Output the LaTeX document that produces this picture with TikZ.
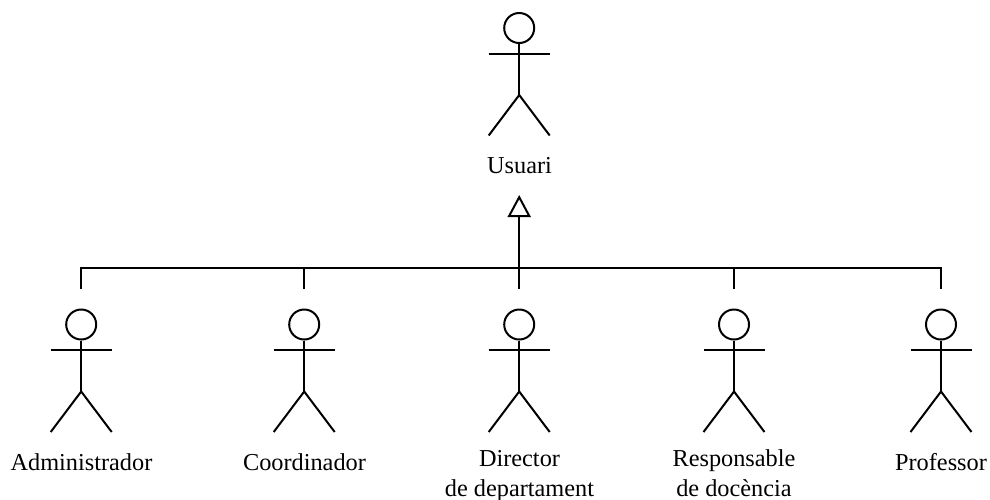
\documentclass[tikz,border=0pt]{standalone}
\usepackage{fontspec}
\setmainfont{Liberation Serif}
\usetikzlibrary{arrows.meta}
\tikzset{
  x=1pt,y=-1pt,
  ln/.style={line width=2pt,black},
  lbl/.style={font=\fontsize{24.3}{29}\selectfont,inner sep=0pt,outer sep=0pt,align=center,text=black},
  gen/.style={ln,-{Triangle[open,fill=white,length=22pt,width=23pt,line width=2pt]}},
}
% \actorfig{name}{x}{head centre y}
\newcommand{\actorfig}[3]{%
  \coordinate (#1-top) at (#2,#3-35.5);
  \node[ln,draw,circle,minimum size=30pt,inner sep=0pt] (#1-head) at (#2,#3) {};
  \coordinate (#1-hip) at (#2,#3+67);
  \coordinate (#1-la) at (#2-30.5,#3+25.5);
  \coordinate (#1-ra) at (#2+30.5,#3+25.5);
  \coordinate (#1-lf) at (#2-30.5,#3+107.5);
  \coordinate (#1-rf) at (#2+30.5,#3+107.5);
  \draw[ln] (#1-head.south) -- (#1-hip);
  \draw[ln] (#1-la) -- (#1-ra);
  \draw[ln] (#1-lf) -- (#1-hip) -- (#1-rf);
}
\begin{document}
\begin{tikzpicture}
\useasboundingbox (0,0) rectangle (990,499);
\actorfig{usuari}{519.2}{28}
\actorfig{admin}{81.2}{324.5}
\actorfig{coord}{304.2}{324.5}
\actorfig{dir}{519.2}{324.5}
\actorfig{resp}{734}{324.5}
\actorfig{prof}{941}{324.5}
\node[lbl,anchor=base] (lusuari) at (519.5,173.5) {Usuari};
\node[lbl,anchor=base] (ladmin) at (81.5,470) {Administrador};
\node[lbl,anchor=base] (lcoord) at (304.5,470) {Coordinador};
\node[lbl,anchor=base] (lprof) at (941,470) {Professor};
\node[lbl,anchor=base] (ldir1) at (519.5,466) {Director};
\node[lbl,anchor=base] (ldir2) at (519.5,496.5) {de departament};
\node[lbl,anchor=base] (lresp1) at (734,466) {Responsable};
\node[lbl,anchor=base] (lresp2) at (734,496.5) {de docència};
\coordinate (tip) at (519.2,195);
\coordinate (busmid) at (519.2,268.3);
\draw[gen] (busmid) -- (tip);
\draw[ln] (admin-top) -- (admin-top |- busmid) -- (prof-top |- busmid) -- (prof-top);
\draw[ln] (coord-top |- busmid) -- (coord-top);
\draw[ln] (dir-top |- busmid) -- (dir-top);
\draw[ln] (resp-top |- busmid) -- (resp-top);
\end{tikzpicture}
\end{document}
